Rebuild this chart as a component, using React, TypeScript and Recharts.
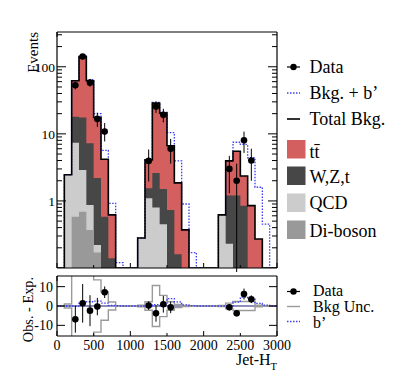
import {
  ComposedChart,
  Area,
  Line,
  Scatter,
  ErrorBar,
  XAxis,
  YAxis,
  ReferenceLine,
} from "recharts"

// Jet-HT bins, 100 wide
const BIN = 100
const binLow = [
  0, 100, 200, 300, 400, 500, 600, 700, 800, 900, 1000, 1100, 1200, 1300, 1400,
  1500, 1600, 1700, 1800, 1900, 2000, 2100, 2200, 2300, 2400, 2500, 2600, 2700, 2800, 2900,
]

// background processes, per bin (stacked bottom to top)
const diboson = [0, 0, 0.58, 0.69, 0.37, 0.17, 0, 0, 0, 0, 0, 0, 0, 0, 0, 0, 0, 0, 0, 0, 0, 0, 0, 0, 0, 0, 0, 0, 0, 0]
const qcd = [0, 2.45, 6.8, 2.2, 0.5, 0.05, 0, 0, 0, 0, 0, 0.28, 1.1, 0.8, 0.45, 0, 0, 0, 0, 0, 0, 0, 0.62, 0.23, 0, 0, 0, 0, 0, 0]
const wzt = [0, 0, 10.6, 14.6, 6.4, 1.98, 0.58, 0.14, 0, 0, 0, 0, 0.45, 1.8, 1.05, 0.73, 0.16, 0, 0, 0, 0, 0, 0, 0.97, 1.2, 0.85, 0, 0, 0, 0]
const ttbar = [0, 0, 44, 124.5, 54.7, 15.3, 3.6, 0.48, 0, 0, 0, 0, 2.55, 26.1, 18.9, 5.9, 1.7, 0.37, 0, 0, 0, 0, 0, 2.75, 4.3, 1.5, 0.85, 0.27, 0, 0]
// b' signal on top of the total background
const signal = [0, 0, 0, 1.5, 2.2, 2.5, 1.5, 0.3, 0.12, 0, 0, 0, 0, 0.7, 0.4, 3.8, 2.1, 0.53, 0.17, 0, 0, 0, 0, 0, 2.0, 4.6, 3.55, 1.33, 0.45, 0]
// background uncertainty (absolute, events)
const bkgUnc = [0, 1.0, 20, 20, 20, 13.5, 7.4, 2.1, 0, 0, 0, 0.4, 2.2, 10.6, 5.5, 2.2, 0.8, 0.3, 0, 0, 0, 0, 0.3, 1.5, 2.3, 2.3, 2.3, 0.4, 0, 0]

// observed data at bin centres
const dataHT = [250, 350, 450, 550, 650, 1250, 1350, 1450, 1550, 2350, 2450, 2550, 2650]
const dataEvents = [53, 142, 58, 16.7, 10.8, 3.95, 25.5, 19.2, 6.0, 3.0, 2.0, 8.0, 4.0]
const dataErrLo = [7, 12, 7.6, 4, 3.1, 2.0, 5, 4.4, 2.4, 1.7, 1.95, 2.8, 2]
const dataErrHi = [7, 12, 7.6, 4, 3.7, 1.9, 5, 4.4, 2.4, 1.7, 1.6, 2.8, 2]
const diffValues = [-6.9, 1.4, -2.4, -0.3, 7.1, 0.2, -3.8, 0.9, -0.7, -0.7, -3.8, 6.2, 3.5]
const diffErr = [6.9, 10, 8, 4.5, 3, 2.2, 4.3, 4.3, 3, 1.2, 1, 2.8, 2]

const xTicks = [0, 500, 1000, 1500, 2000, 2500, 3000]
const logTicks = [
  0.2, 0.3, 0.4, 0.5, 0.6, 0.7, 0.8, 0.9, 1, 2, 3, 4, 5, 6, 7, 8, 9,
  10, 20, 30, 40, 50, 60, 70, 80, 90, 100, 200, 300,
]
const logLabels = [1, 10, 100]
const diffTicks = [-10, 0, 10]

const FLOOR = 0.1
const Y_MAX = 330
const FONT = "Liberation Serif"
const RED = "#d35f5f"
const DARK = "#474747"
const LIGHT = "#cccccc"
const MID = "#999999"
const BLUE = "#3c3cf0"
const UNC = "#9a9a9a"

const clip = (v: number) => Math.max(v, FLOOR)

const mainRows = binLow.flatMap((lo, i) => {
  const d = diboson[i]
  const q = d + qcd[i]
  const w = q + wzt[i]
  const t = w + ttbar[i]
  const s = t + signal[i]
  const row = { diboson: clip(d), qcd: clip(q), wzt: clip(w), total: clip(t), sig: clip(s) }
  return [{ x: lo, ...row }, { x: lo + BIN, ...row }]
})

const diffRows = binLow.flatMap((lo, i) => {
  const row = { uncHi: bkgUnc[i], uncLo: -bkgUnc[i], sig: signal[i] }
  return [{ x: lo, ...row }, { x: lo + BIN, ...row }]
})

const dataPoints = dataHT.map((x, i) => ({ x, y: dataEvents[i], err: [dataErrLo[i], dataErrHi[i]] }))
const diffPoints = dataHT.map((x, i) => ({ x, y: diffValues[i], err: diffErr[i] }))

const dot = (p: any) => <circle cx={p.cx} cy={p.cy} r={3.3} fill="#000" />

function LogTickLeft(props: any) {
  const { x, y, payload } = props
  const major = logLabels.includes(payload.value)
  return (
    <g>
      <line x1={x} x2={x + (major ? 9 : 5)} y1={y} y2={y} stroke="#000" />
      {major && (
        <text x={x - 2} y={y + 5} textAnchor="end" fontSize={13.5} fontFamily={FONT} fill="#000">
          {payload.value}
        </text>
      )}
    </g>
  )
}

function LogTickRight(props: any) {
  const { x, y, payload } = props
  const major = logLabels.includes(payload.value)
  return <line x1={x} x2={x - (major ? 9 : 5)} y1={y} y2={y} stroke="#000" />
}

function DiffTickLeft(props: any) {
  const { x, y, payload } = props
  return (
    <g>
      <line x1={x} x2={x + 8} y1={y} y2={y} stroke="#000" />
      <text x={x - 4} y={y + 5} textAnchor="end" fontSize={14} fontFamily={FONT} fill="#000">
        {payload.value}
      </text>
    </g>
  )
}

function DiffTickRight(props: any) {
  const { x, y } = props
  return <line x1={x} x2={x - 8} y1={y} y2={y} stroke="#000" />
}

function XTickTop(props: any) {
  const { x, y, payload } = props
  const len = payload.value % 1000 === 0 ? 5 : 3
  return <line x1={x} x2={x} y1={y} y2={y + len} stroke="#000" />
}

function XTickBottom(props: any) {
  const { x, y, payload } = props
  const len = payload.value % 1000 === 0 ? 5 : 3
  return <line x1={x} x2={x} y1={y} y2={y - len} stroke="#000" />
}

function XTickLabelled(props: any) {
  const { x, y, payload } = props
  const len = payload.value % 1000 === 0 ? 5 : 3
  return (
    <g>
      <line x1={x} x2={x} y1={y} y2={y - len} stroke="#000" />
      <text x={x} y={y + 13.5} textAnchor="middle" fontSize={14} fontFamily={FONT} fill="#000">
        {payload.value}
      </text>
    </g>
  )
}

const axisLine = { stroke: "#000", strokeWidth: 1.2 }

function MainPanel() {
  return (
    <ComposedChart
      width={300}
      height={272}
      data={mainRows}
      margin={{ top: 31, right: 22, bottom: 3, left: 17 }}
    >
      <XAxis dataKey="x" type="number" domain={[0, 3000]} ticks={xTicks} interval={0}
        allowDataOverflow height={1} tickSize={0} tickMargin={0} tickLine={false}
        axisLine={axisLine} tick={XTickBottom} />
      <XAxis xAxisId="top" orientation="top" type="number" domain={[0, 3000]} ticks={xTicks}
        interval={0} allowDataOverflow height={1} tickSize={0} tickMargin={0} tickLine={false}
        axisLine={axisLine} tick={XTickTop} />
      <YAxis scale="log" type="number" domain={[FLOOR, Y_MAX]} allowDataOverflow ticks={logTicks}
        interval={0} width={40} tickSize={0} tickMargin={0} tickLine={false}
        axisLine={axisLine} tick={LogTickLeft} />
      <YAxis yAxisId="r" orientation="right" scale="log" type="number" domain={[FLOOR, Y_MAX]}
        allowDataOverflow ticks={logTicks} interval={0} width={1} tickSize={0} tickMargin={0}
        tickLine={false} axisLine={axisLine} tick={LogTickRight} />

      <Area type="linear" dataKey="total" stroke="none" fill={RED} fillOpacity={1}
        isAnimationActive={false} dot={false} activeDot={false} />
      <Area type="linear" dataKey="wzt" stroke="none" fill={DARK} fillOpacity={1}
        isAnimationActive={false} dot={false} activeDot={false} />
      <Area type="linear" dataKey="qcd" stroke="none" fill={LIGHT} fillOpacity={1}
        isAnimationActive={false} dot={false} activeDot={false} />
      <Area type="linear" dataKey="diboson" stroke="none" fill={MID} fillOpacity={1}
        isAnimationActive={false} dot={false} activeDot={false} />

      <Line type="linear" dataKey="sig" stroke={BLUE} strokeWidth={1.3} strokeDasharray="1.5 1.5"
        dot={false} activeDot={false} isAnimationActive={false} />
      <Line type="linear" dataKey="total" stroke="#000" strokeWidth={1.6}
        dot={false} activeDot={false} isAnimationActive={false} />

      <Scatter data={dataPoints} dataKey="y" shape={dot} isAnimationActive={false}>
        <ErrorBar dataKey="err" direction="y" width={0} stroke="#000" strokeWidth={1} />
      </Scatter>
    </ComposedChart>
  )
}

function DiffPanel() {
  return (
    <ComposedChart
      width={300}
      height={115}
      data={diffRows}
      margin={{ top: 3, right: 22, bottom: 21, left: 17 }}
    >
      <XAxis dataKey="x" type="number" domain={[0, 3000]} ticks={xTicks} interval={0}
        allowDataOverflow height={30} tickSize={0} tickMargin={0} tickLine={false}
        axisLine={axisLine} tick={XTickLabelled} />
      <XAxis xAxisId="top" orientation="top" type="number" domain={[0, 3000]} ticks={xTicks}
        interval={0} allowDataOverflow height={1} tickSize={0} tickMargin={0} tickLine={false}
        axisLine={axisLine} tick={XTickTop} />
      <YAxis type="number" domain={[-15.5, 15.5]} allowDataOverflow ticks={diffTicks} interval={0}
        width={40} tickSize={0} tickMargin={0} tickLine={false} axisLine={axisLine}
        tick={DiffTickLeft} />
      <YAxis yAxisId="r" orientation="right" type="number" domain={[-15.5, 15.5]}
        allowDataOverflow ticks={diffTicks} interval={0} width={1} tickSize={0} tickMargin={0}
        tickLine={false} axisLine={axisLine} tick={DiffTickRight} />

      <ReferenceLine y={0} stroke="#1f1f7a" strokeWidth={1.2} />
      <Line type="linear" dataKey="uncHi" stroke={UNC} strokeWidth={1.4}
        dot={false} activeDot={false} isAnimationActive={false} />
      <Line type="linear" dataKey="uncLo" stroke={UNC} strokeWidth={1.4}
        dot={false} activeDot={false} isAnimationActive={false} />
      <Line type="linear" dataKey="sig" stroke={BLUE} strokeWidth={1.3} strokeDasharray="1.5 1.5"
        dot={false} activeDot={false} isAnimationActive={false} />

      <Scatter data={diffPoints} dataKey="y" shape={dot} isAnimationActive={false}>
        <ErrorBar dataKey="err" direction="y" width={0} stroke="#000" strokeWidth={1} />
      </Scatter>
    </ComposedChart>
  )
}

function Legends() {
  const tx = 309.5
  return (
    <svg width={407} height={387} style={{ position: "absolute", left: 0, top: 0, pointerEvents: "none" }}>
      <g fontSize={18} fontFamily={FONT} fill="#000">
        <line x1={287} x2={300} y1={67} y2={67} stroke="#000" strokeWidth={1.2} />
        <circle cx={293.5} cy={67} r={3.2} fill="#000" />
        <text x={tx} y={73}>Data</text>

        <line x1={287} x2={300} y1={93} y2={93} stroke={BLUE} strokeWidth={1.3} strokeDasharray="1.5 1.5" />
        <text x={tx} y={99}>Bkg. + b’</text>

        <line x1={287} x2={300} y1={119} y2={119} stroke="#000" strokeWidth={1.6} />
        <text x={tx} y={125}>Total Bkg.</text>

        <rect x={287} y={140} width={18.5} height={18.5} fill={RED} />
        <text x={tx} y={158}>tt̄</text>

        <rect x={287} y={166.5} width={18.5} height={18.5} fill={DARK} />
        <text x={tx} y={183}>W,Z,t</text>

        <rect x={287} y={193.5} width={18.5} height={18.5} fill={LIGHT} />
        <text x={tx} y={209}>QCD</text>

        <rect x={287} y={220.5} width={18.5} height={18.5} fill={MID} />
        <text x={tx} y={237}>Di-boson</text>
      </g>

      <g fontSize={16} fontFamily={FONT} fill="#000">
        <line x1={287} x2={300} y1={291.5} y2={291.5} stroke="#000" strokeWidth={1.2} />
        <circle cx={293.5} cy={291.5} r={3.2} fill="#000" />
        <text x={313} y={296}>Data</text>

        <line x1={287} x2={300} y1={306.5} y2={306.5} stroke={UNC} strokeWidth={1.4} />
        <text x={313} y={311.5}>Bkg Unc.</text>

        <line x1={287} x2={300} y1={321.5} y2={321.5} stroke={BLUE} strokeWidth={1.3} strokeDasharray="1.5 1.5" />
        <text x={313} y={328}>b’</text>
      </g>

      <text transform="translate(37.5,32) rotate(-90)" textAnchor="end" fontSize={15}
        fontFamily={FONT} fill="#000">
        Events
      </text>
      <text transform="translate(33,277) rotate(-90)" textAnchor="end" fontSize={14.3}
        fontFamily={FONT} fill="#000">
        Obs. - Exp.
      </text>
      <text x={277} y={365} textAnchor="end" fontSize={16} fontFamily={FONT} fill="#000">
        Jet-H<tspan fontSize={10.5} dy={5}>T</tspan>
      </text>
    </svg>
  )
}

export default function App() {
  return (
    <div
      style={{
        position: "absolute",
        left: 0,
        top: 0,
        width: 407,
        height: 387,
        background: "#fff",
        fontFamily: FONT,
        overflow: "hidden",
      }}
    >
      <div style={{ position: "absolute", left: 0, top: 0 }}>
        <MainPanel />
      </div>
      <div style={{ position: "absolute", left: 0, top: 272 }}>
        <DiffPanel />
      </div>
      <Legends />
    </div>
  )
}
